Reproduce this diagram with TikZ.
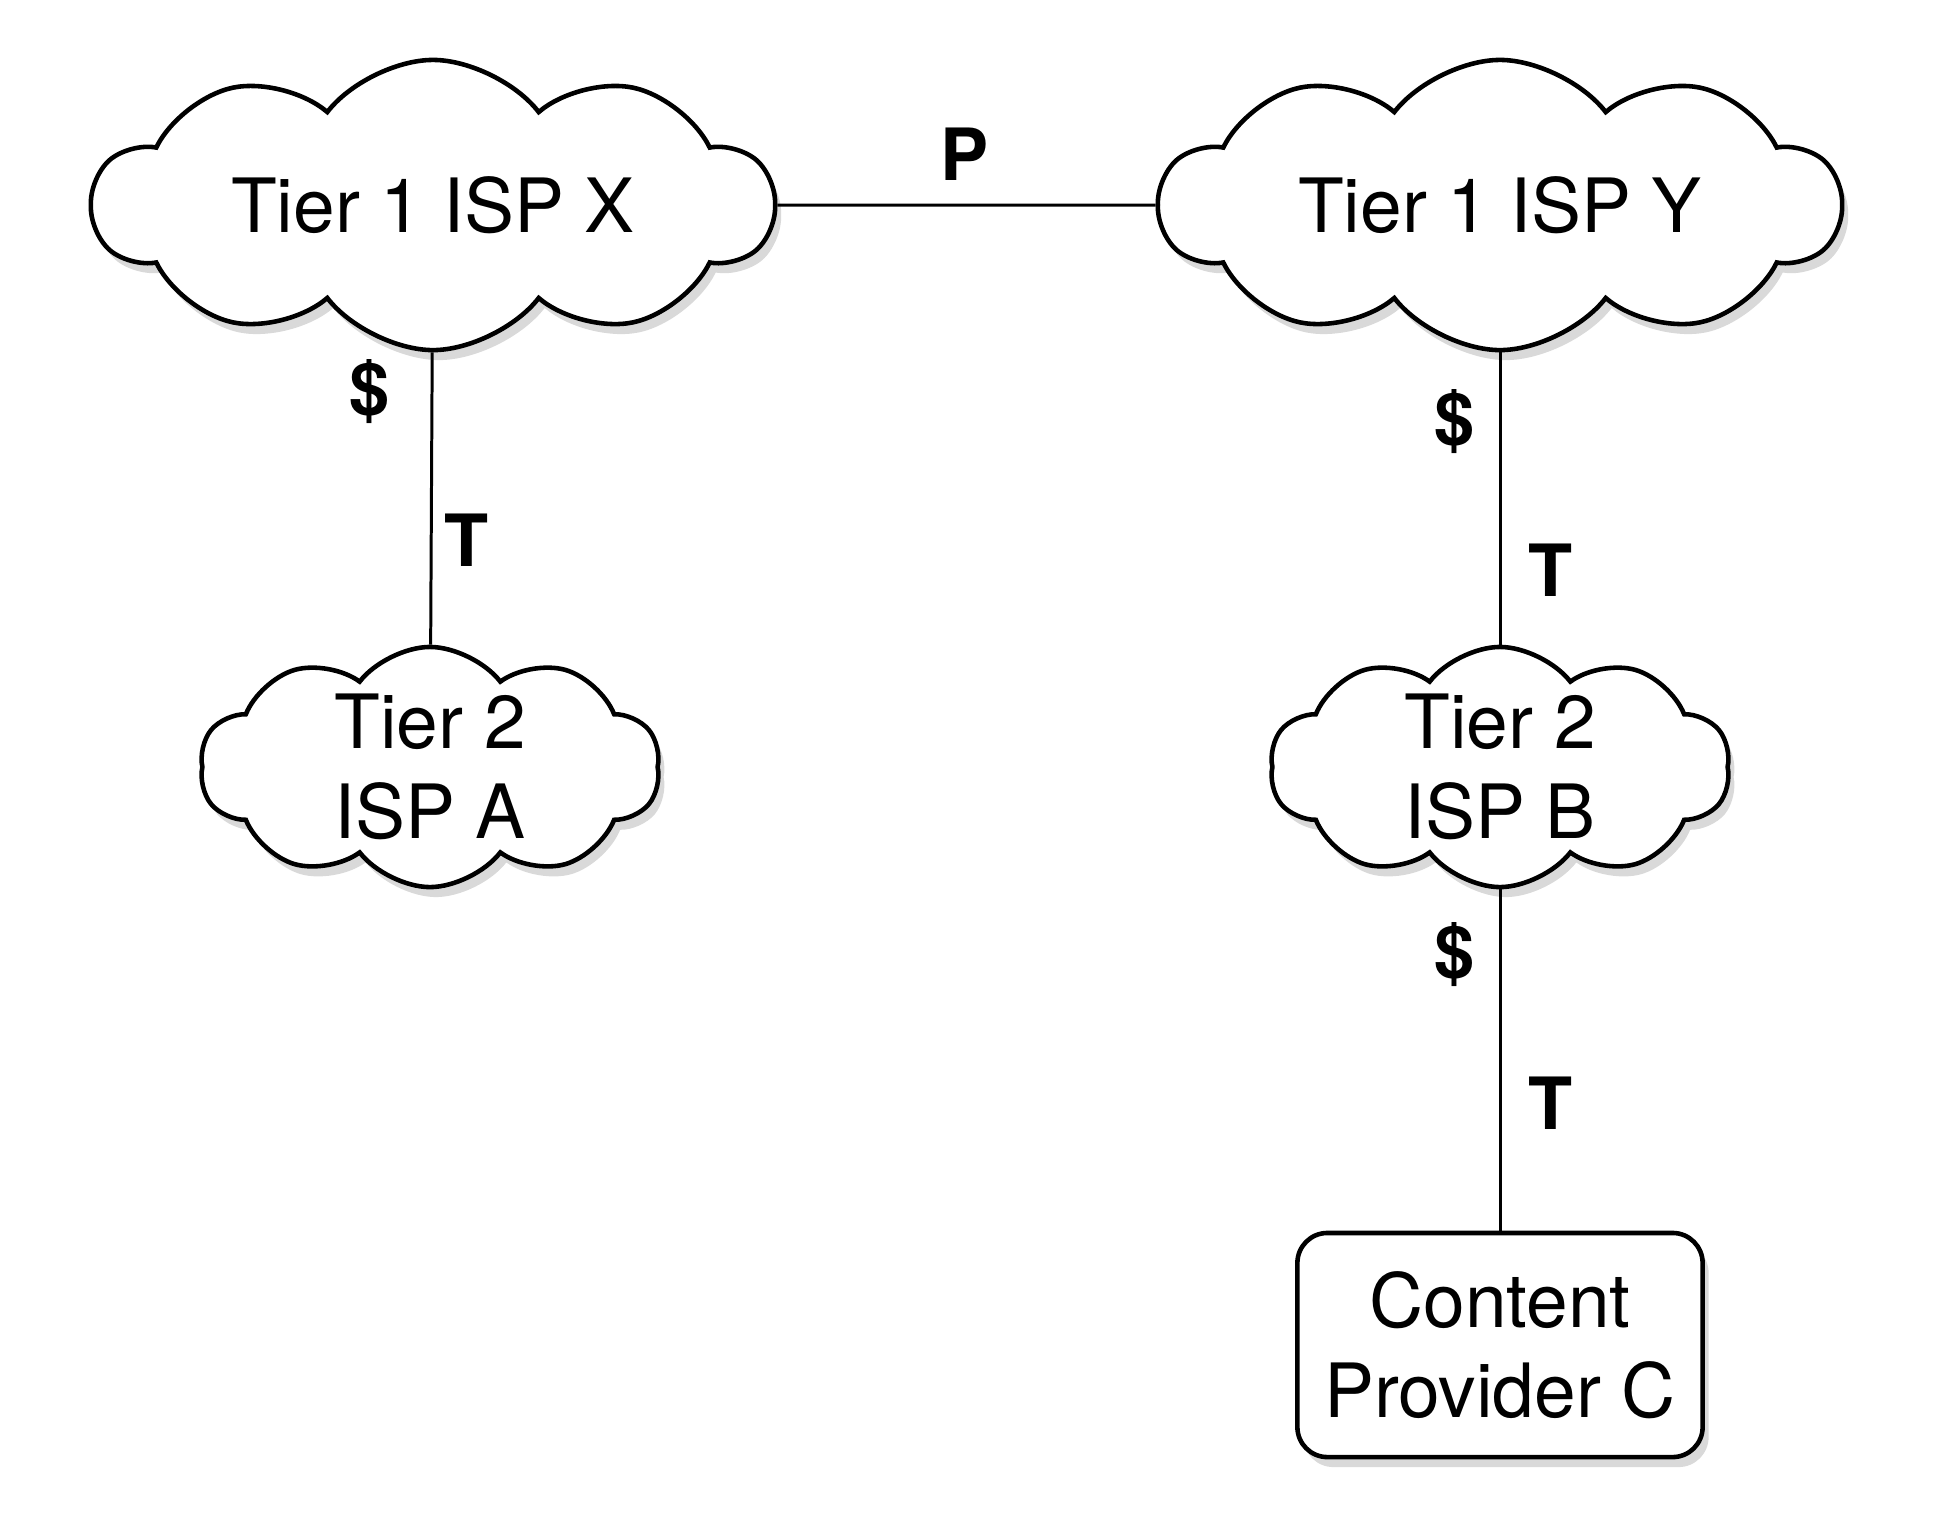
\documentclass[tikz,border=0pt]{standalone}
\usepackage{fontspec}
\setmainfont{TeX Gyre Heros}
\usetikzlibrary{shapes.symbols,shadows}
\tikzset{
  isp/.style={cloud, cloud puffs=10, cloud puff arc=105, cloud ignores aspect, draw, line width=1.3pt, fill=white,
    drop shadow={shadow xshift=0.6mm, shadow yshift=-1mm, opacity=0.3},
    font=\fontsize{21.3}{25.5}\selectfont, align=center, inner sep=0pt},
  bigisp/.style={isp, minimum width=6.8cm, minimum height=2.9cm},
  smallisp/.style={isp, minimum width=4.6cm, minimum height=2.4cm},
  provider/.style={draw, rounded corners=0.3cm, line width=1.3pt, fill=white,
    drop shadow={shadow xshift=0.6mm, shadow yshift=-1mm, opacity=0.3},
    minimum width=4.05cm, minimum height=2.24cm, align=center,
    font=\fontsize{21.3}{25.5}\selectfont},
  link/.style={line width=0.85pt},
  tag/.style={font=\fontsize{20.5}{22}\selectfont\bfseries}
}
\begin{document}
\begin{tikzpicture}[x=0.01cm, y=-0.01cm]
  \useasboundingbox (0,0) rectangle (1933,1529);
  \node[bigisp] (ispx) at (433,205) {Tier 1 ISP X};
  \node[bigisp] (ispy) at (1500,205) {Tier 1 ISP Y};
  \node[smallisp] (ispa) at (430,767) {Tier 2\\ISP A};
  \node[smallisp] (ispb) at (1500,767) {Tier 2\\ISP B};
  \node[provider] (cpc) at (1500,1345) {Content\\Provider C};
  \draw[link] (ispx) -- (ispy);
  \draw[link] (ispx) -- (ispa);
  \draw[link] (ispy) -- (ispb);
  \draw[link] (ispb) -- (cpc);
  \node[tag] (p) at (965,154) {P};
  \node[tag] (xa-pay) at (370,392) {\$};
  \node[tag] (xa-tr) at (467,540) {T};
  \node[tag] (yb-pay) at (1455,422) {\$};
  \node[tag] (yb-tr) at (1551,570) {T};
  \node[tag] (bc-pay) at (1455,955) {\$};
  \node[tag] (bc-tr) at (1551,1103) {T};
\end{tikzpicture}
\end{document}
